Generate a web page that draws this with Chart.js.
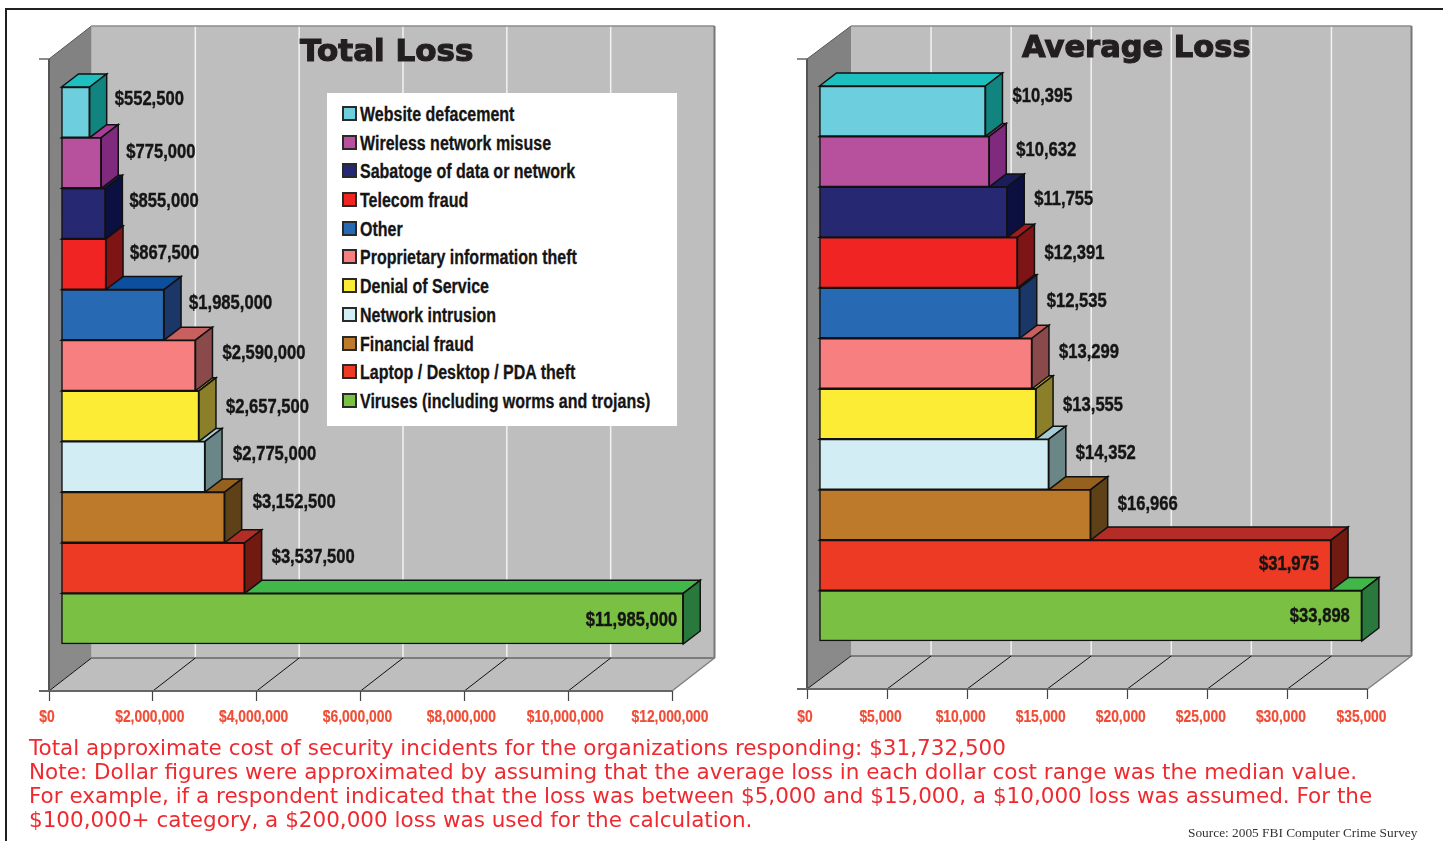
<!DOCTYPE html>
<html>
<head>
<meta charset="utf-8">
<title>Total Loss / Average Loss</title>
<script src="https://cdn.jsdelivr.net/npm/chart.js@4/dist/chart.umd.js"></script>
<style>
  html, body { margin: 0; padding: 0; background: #fff; overflow: hidden; }
  #page { position: relative; width: 1443px; height: 841px; overflow: hidden; }
  #frame { position: absolute; left: 5px; top: 8px; width: 1445px; height: 840px; border-left: 2.5px solid #231f20; border-top: 2.5px solid #231f20; }
  canvas { position: absolute; left: 0; top: 0; }
  #legend { position: absolute; left: 327px; top: 93px; width: 350px; height: 333px; background: #fff; z-index: 5; }
  .row { position: absolute; left: 15px; height: 20px; white-space: nowrap; font: bold 20px "Liberation Sans"; line-height: 20px; color: #151515; }
  .row i { position: absolute; left: 0; top: 1px; width: 11px; height: 11px; border: 2px solid #2a2a2a; }
  .row span { position: absolute; left: 18px; top: -1px; transform: scaleX(0.8); transform-origin: left center; -webkit-text-stroke: 0.3px #151515; }
  #note { position: absolute; left: 29px; top: 736px; font: 21.5px/24px "DejaVu Sans"; color: #ee2a30; white-space: nowrap; z-index: 5; }
  #source { position: absolute; left: 1188px; top: 825px; font: 13.35px "Liberation Serif"; color: #333; white-space: nowrap; z-index: 5; }
</style>
</head>
<body>
<div id="page">
  <div id="frame"></div>
  <canvas id="totalctr" width="1443" height="841"></canvas>
  <canvas id="averagectr" width="1443" height="841"></canvas>
  <div id="legend"></div>
  <div id="note">
    <div>Total approximate cost of security incidents for the organizations responding: $31,732,500</div>
    <div>Note: Dollar figures were approximated by assuming that the average loss in each dollar cost range was the median value.</div>
    <div>For example, if a respondent indicated that the loss was between $5,000 and $15,000, a $10,000 loss was assumed. For the</div>
    <div>$100,000+ category, a $200,000 loss was used for the calculation.</div>
  </div>
  <div id="source">Source: 2005 FBI Computer Crime Survey</div>
</div>
<script>
const categories = ['Website defacement', 'Wireless network misuse', 'Sabatoge of data or network', 'Telecom fraud', 'Other',
  'Proprietary information theft', 'Denial of Service', 'Network intrusion', 'Financial fraud', 'Laptop / Desktop / PDA theft',
  'Viruses (including worms and trojans)'];
const totalLoss = [552500, 775000, 855000, 867500, 1985000, 2590000, 2657500, 2775000, 3152500, 3537500, 11985000];
const averageLoss = [10395, 10632, 11755, 12391, 12535, 13299, 13555, 14352, 16966, 31975, 33898];
const totalTicks = [0, 2000000, 4000000, 6000000, 8000000, 10000000, 12000000];
const averageTicks = [0, 5000, 10000, 15000, 20000, 25000, 30000, 35000];

const frontColors = ['#6dcedd', '#b8519d', '#272872', '#f12424', '#2869b4', '#f77f80', '#fdec36', '#d3edf4', '#be7a2b', '#ec3a25', '#7ac143'];
const sideColors = ['#12847f', '#7f2a7d', '#0b1040', '#7e1416', '#1a3768', '#8a4a4b', '#8c7f2a', '#6b8686', '#5f4118', '#701a12', '#29793c'];
const topColors = ['#1ebfbf', '#a83f96', '#1b1c5a', '#a21c1f', '#0c4f9e', '#c86060', '#bdae2f', '#a9cdd6', '#96601f', '#b32c25', '#41b649'];

// the value labels were placed by hand in the original, so they wander a little around the bar
const totalNudgeY = [-13, -10, -12, -11, -11, -12, -9, -12, -15, -11, 2];
const averageNudgeY = [-15, -11, -13, -9, -12, -11, -8, -11, -10, -1, 1];
const totalNudgeX = [0, 0, -1, -1, 0, 2, 2, 3, 3, 2, 0];

const money = v => '$' + v.toLocaleString('en-US');

function poly(ctx, pts, fill, stroke, width) {
  ctx.beginPath();
  pts.forEach((p, i) => i ? ctx.lineTo(p[0], p[1]) : ctx.moveTo(p[0], p[1]));
  ctx.closePath();
  if (fill) { ctx.fillStyle = fill; ctx.fill(); }
  if (stroke) { ctx.strokeStyle = stroke; ctx.lineWidth = width; ctx.stroke(); }
}

function line(ctx, x1, y1, x2, y2, color, width) {
  ctx.beginPath();
  ctx.moveTo(x1, y1);
  ctx.lineTo(x2, y2);
  ctx.strokeStyle = color;
  ctx.lineWidth = width;
  ctx.stroke();
}

// no narrow font here, so squeeze Liberation Sans Bold sideways
function narrowText(ctx, text, x, y, sx, heavy) {
  ctx.save();
  ctx.translate(x, y);
  ctx.scale(sx, 1);
  ctx.fillText(text, 0, 0);
  if (heavy) {
    ctx.strokeStyle = ctx.fillStyle;
    ctx.lineWidth = heavy;
    ctx.strokeText(text, 0, 0);
  }
  ctx.restore();
}

// walls, floor, bar depth and value labels, all hung off the chart scales
const box3d = {
  id: 'box3d',
  beforeDraw(chart, args, o) {
    const { ctx, chartArea: a, scales: { x } } = chart;
    const bx = a.left + o.wallDx, by = a.bottom + o.wallDy, tf = o.wallTop, tb = o.wallTop + o.wallDy;
    const rx = a.right + o.wallDx;
    ctx.save();
    ctx.fillStyle = '#bebebe';
    ctx.fillRect(bx, tb, rx - bx, by - tb);
    const g = ctx.createLinearGradient(0, tf, 0, a.bottom);
    g.addColorStop(0, '#828282');
    g.addColorStop(1, '#8a8a8a');
    poly(ctx, [[a.left, tf], [bx, tb], [bx, by], [a.left, a.bottom]], g);
    poly(ctx, [[a.left, a.bottom], [bx, by], [rx, by], [a.right, a.bottom]], '#bebebe');
    o.ticks.forEach(v => {
      const px = x.getPixelForValue(v);
      if (v > 0 && px < a.right - 1) line(ctx, px + o.wallDx, tb, px + o.wallDx, by, '#f2f2f2', 1.5);
    });
    line(ctx, bx, tb, rx, tb, '#8c8c8c', 1.5);
    line(ctx, rx, tb, rx, by, '#777', 2);
    line(ctx, bx, by, rx, by, '#7d7d7d', 2);
    line(ctx, rx, by, a.right, a.bottom, '#808080', 1.5);
    o.ticks.forEach(v => {
      const px = x.getPixelForValue(v);
      if (px < a.right - 1) line(ctx, px, a.bottom, px + o.wallDx, by, '#111', 1);
    });
    line(ctx, a.left, tf, bx, tb, '#555', 1);
    line(ctx, a.left, tf, a.left, a.bottom, '#555', 2);
    line(ctx, a.left - 10, tf, a.left, tf, '#666', 1.5);
    line(ctx, a.left - 10, a.bottom, a.right, a.bottom, '#666', 2);
    // tick labels
    ctx.font = 'bold 16px "Liberation Sans"';
    ctx.fillStyle = '#ef4d36';
    ctx.textAlign = 'center';
    ctx.textBaseline = 'middle';
    o.ticks.forEach((v, i) => {
      const shift = i === 0 ? -2 : (i === o.ticks.length - 1 ? o.lastShift : o.tickShift);
      narrowText(ctx, money(v), x.getPixelForValue(v) + shift, a.bottom + o.tickLabelY, 0.865, 0.2);
    });
    // title
    ctx.font = 'bold ' + o.titleSize + 'px "DejaVu Sans"';
    ctx.fillStyle = ctx.strokeStyle = '#231f20';
    ctx.lineWidth = 1.2;
    ctx.textAlign = 'left';
    ctx.fillText(o.title, o.titleX, o.titleY);
    ctx.strokeText(o.title, o.titleX, o.titleY);
    ctx.restore();
  },
  beforeDatasetsDraw(chart, args, o) {
    const { ctx } = chart;
    ctx.save();
    ctx.translate(o.barDx, o.barDy);
    // bottom bar first, so an upper bar's side face lies over the top face below it
    chart.getDatasetMeta(0).data.slice().reverse().forEach((bar, r) => {
      const i = categories.length - 1 - r;
      const t = bar.y - bar.height / 2, b = bar.y + bar.height / 2;
      poly(ctx, [[bar.base, t], [bar.base + o.depthX, t + o.depthY], [bar.x + o.depthX, t + o.depthY], [bar.x, t]], topColors[i], '#111', 1.5);
      poly(ctx, [[bar.x, t], [bar.x + o.depthX, t + o.depthY], [bar.x + o.depthX, b + o.depthY], [bar.x, b]], sideColors[i], '#111', 1.5);
    });
  },
  afterDatasetsDraw(chart, args, o) {
    const { ctx } = chart;
    ctx.restore();
    ctx.save();
    ctx.font = 'bold 20px "Liberation Sans"';
    ctx.fillStyle = '#151515';
    ctx.textBaseline = 'middle';
    chart.getDatasetMeta(0).data.forEach((bar, i) => {
      const v = chart.data.datasets[0].data[i];
      const end = bar.x + o.barDx, mid = bar.y + o.barDy + o.nudgeY[i];
      if (v >= o.insideFrom) {
        ctx.textAlign = 'right';
        narrowText(ctx, money(v), end - o.insidePad, mid, 0.83, 0.4);
      } else {
        ctx.textAlign = 'left';
        narrowText(ctx, money(v), end + o.outsidePad + (o.nudgeX ? o.nudgeX[i] : 0), mid, 0.83, 0.4);
      }
    });
    ctx.restore();
  }
};

function makeChart(id, values, ticks, layout, box) {
  return new Chart(document.getElementById(id).getContext('2d'), {
    type: 'bar',
    plugins: [box3d],
    data: {
      labels: categories,
      datasets: [{
        data: values,
        backgroundColor: frontColors,
        borderColor: '#111',
        borderWidth: 1.5,
        borderSkipped: false,
        barPercentage: 1,
        categoryPercentage: 1,
        clip: false
      }]
    },
    options: {
      indexAxis: 'y',
      responsive: false,
      animation: false,
      events: [],
      layout: { padding: layout },
      scales: {
        x: {
          min: ticks[0],
          max: ticks[ticks.length - 1],
          afterBuildTicks: scale => { scale.ticks = ticks.map(v => ({ value: v })); },
          afterFit: scale => { scale.height = 50; },
          border: { display: false },
          grid: { drawOnChartArea: false, tickLength: 10, color: '#444', tickWidth: 1.2 },
          ticks: { display: false, autoSkip: false }
        },
        y: { display: false }
      },
      plugins: {
        legend: { display: false },
        tooltip: { enabled: false },
        box3d: box
      }
    }
  });
}

makeChart('totalctr', totalLoss, totalTicks, { left: 49, right: 771, top: 134, bottom: 100 }, {
  title: 'Total Loss', titleX: 300, titleY: 53, titleSize: 31, ticks: totalTicks,
  tickShift: -3, lastShift: -2, tickLabelY: 26.5,
  wallDx: 42.5, wallDy: -33, wallTop: 59,
  barDx: 12, barDy: -47, depthX: 17, depthY: -13, nudgeY: totalNudgeY, nudgeX: totalNudgeX,
  insideFrom: 10000000, insidePad: 6, outsidePad: 25
});

makeChart('averagectr', averageLoss, averageTicks, { left: 807, right: 75.5, top: 134, bottom: 102 }, {
  title: 'Average Loss', titleX: 1022, titleY: 49, titleSize: 30.5, ticks: averageTicks,
  tickShift: -6.5, lastShift: -6, tickLabelY: 29,
  wallDx: 44, wallDy: -33, wallTop: 59,
  barDx: 12, barDy: -48, depthX: 17, depthY: -13, nudgeY: averageNudgeY,
  insideFrom: 30000, insidePad: 12, outsidePad: 27
});

// legend box sits over the left chart's back wall
const legendBox = document.getElementById('legend');
categories.forEach((name, i) => {
  const row = document.createElement('div');
  row.className = 'row';
  row.style.top = (11.9 + i * 28.7) + 'px';
  const swatch = document.createElement('i');
  swatch.style.background = frontColors[i];
  const text = document.createElement('span');
  text.textContent = name;
  row.append(swatch, text);
  legendBox.append(row);
});
</script>
</body>
</html>
